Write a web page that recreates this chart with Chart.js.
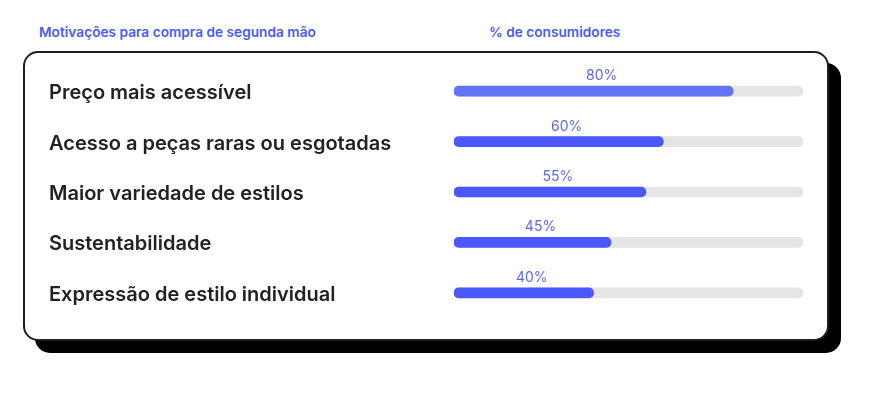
<!DOCTYPE html>
<html>
<head>
<meta charset="utf-8">
<script src="https://cdn.jsdelivr.net/npm/chart.js@4"></script>
<style>
  html, body { margin: 0; padding: 0; background: #ffffff; }
  body { width: 877px; height: 396px; position: relative; overflow: hidden; font-family: Inter, "Noto Sans", sans-serif; }
  .title { position: absolute; top: 24px; font-size: 13.7px; font-weight: 600; color: #4a5af5; white-space: nowrap; }
  .shadow { position: absolute; left: 35px; top: 63px; width: 806px; height: 290px; background: #000; border-radius: 15px; }
  .card { position: absolute; left: 23px; top: 51px; width: 802px; height: 286px; background: #fff; border: 2px solid #1f1f1f; border-radius: 15px; }
  #wrap { position: absolute; left: 0; top: 0; width: 877px; height: 396px; }
</style>
</head>
<body>
<div class="title" style="left:39px;">Motivações para compra de segunda mão</div>
<div class="title" style="left:489px;">% de consumidores</div>
<div class="shadow"></div>
<div class="card"></div>
<div id="wrap"><canvas id="c" width="877" height="396"></canvas></div>
<script>
const categories = [
  "Preço mais acessível",
  "Acesso a peças raras ou esgotadas",
  "Maior variedade de estilos",
  "Sustentabilidade",
  "Expressão de estilo individual"
];
const values = [80, 60, 55, 45, 40];
const trackValues = [100, 100, 100, 100, 100];
const valueLabels = ["80%", "60%", "55%", "45%", "40%"];
const barColors = ["#6173f7", "#4a58fb", "#4a58fb", "#4a58fb", "#4a58fb"];

const valueLabelPlugin = {
  id: 'valueLabels',
  afterDatasetsDraw(chart) {
    const ctx = chart.ctx;
    const meta = chart.getDatasetMeta(0);
    const x = chart.scales.x;
    ctx.save();
    ctx.font = '400 14px Inter, "Noto Sans", sans-serif';
    ctx.fillStyle = '#5b67f0';
    ctx.textAlign = 'center';
    ctx.textBaseline = 'alphabetic';
    meta.data.forEach((bar, i) => {
      const cx = x.getPixelForValue(values[i] / 2) + 8;
      ctx.fillText(valueLabels[i], cx, bar.y - 11);
    });
    ctx.restore();
  }
};

new Chart(document.getElementById('c'), {
  type: 'bar',
  data: {
    labels: categories,
    datasets: [
      {
        data: values,
        backgroundColor: barColors,
        borderRadius: 5,
        borderSkipped: false,
        barThickness: 10,
        order: 1
      },
      {
        data: trackValues,
        backgroundColor: '#e5e5e8',
        borderRadius: 5,
        borderSkipped: false,
        barThickness: 10,
        order: 2
      }
    ]
  },
  options: {
    indexAxis: 'y',
    responsive: false,
    animation: false,
    events: [],
    datasets: { bar: { grouped: false } },
    layout: { padding: { left: 49, right: 74, top: 66, bottom: 78 } },
    plugins: { legend: { display: false }, tooltip: { enabled: false } },
    scales: {
      x: {
        min: 0, max: 100,
        display: false,
        grid: { display: false }
      },
      y: {
        grid: { display: false, drawTicks: false },
        border: { display: false },
        afterFit(scale) { scale.width = 405; },
        ticks: {
          crossAlign: 'far',
          padding: 0,
          labelOffset: 2,
          color: '#222222',
          font: { family: 'Inter, "Noto Sans", sans-serif', size: 20, weight: '600' }
        }
      }
    }
  },
  plugins: [valueLabelPlugin]
});
</script>
</body>
</html>
